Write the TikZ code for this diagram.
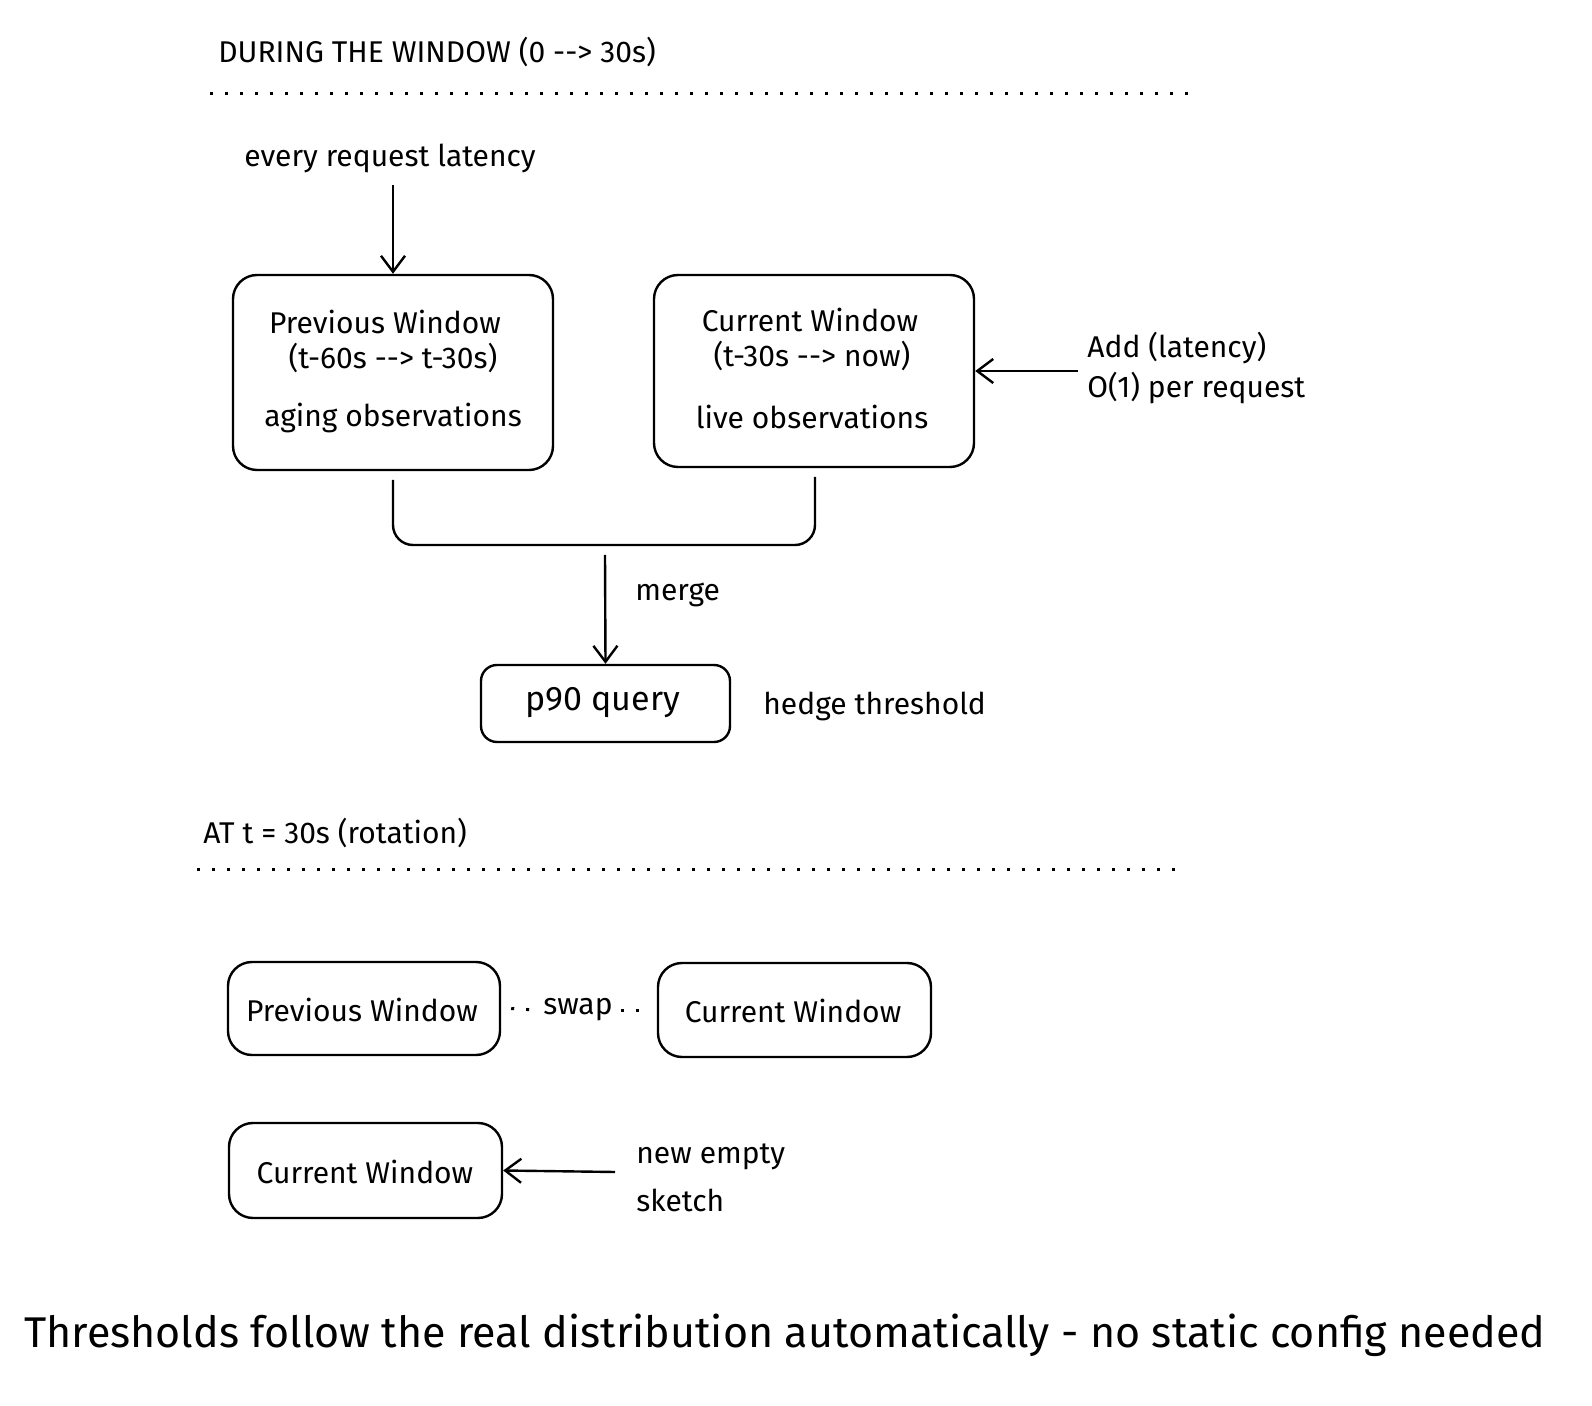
\documentclass[tikz,border=0pt]{standalone}
\usepackage{fontspec}
\setmainfont{Fira Sans}
\usetikzlibrary{arrows.meta}
\begin{document}
\begin{tikzpicture}[x=0.5pt,y=-0.5pt,
  box/.style={draw,line width=1.2pt,rounded corners=12pt,inner sep=0},
  txt/.style={font=\fontsize{15}{18}\selectfont,inner sep=0},
  hdr/.style={font=\fontsize{15}{18}\selectfont,inner sep=0,anchor=west},
  arr/.style={line width=1.2pt,-{Straight Barb[length=8pt,width=12pt]}},
  dots/.style={line width=1.5pt,dash pattern=on 1.5pt off 6pt}]
\useasboundingbox (0,0) rectangle (1592,1406);
\node[hdr] (h1) at (218,52) {DURING THE WINDOW (0 -{}-> 30s)};
\coordinate (d1a) at (210,94); \coordinate (d1b) at (1200,94);
\draw[dots] (d1a) -- (d1b);
\node[txt] (req) at (390,158) {every request latency};
\coordinate (reqa) at (393,185);
\node[box,minimum width=160pt,minimum height=97.5pt] (prev) at (393,372.5) {};
\node[txt] at (385,322) {Previous Window};
\node[txt] at (393,358) {(t-60s -{}-> t-30s)};
\node[txt] at (393,418) {aging observations};
\draw[arr] (reqa) -- (prev.north);
\node[box,minimum width=160pt,minimum height=96pt] (cur) at (814,371) {};
\node[txt] at (810,320) {Current Window};
\node[txt] at (812,356) {(t-30s -{}-> now)};
\node[txt] at (812,417) {live observations};
\node[txt,anchor=west] (add) at (1087,348) {Add (latency)};
\node[txt,anchor=west] (o1) at (1087,388) {O(1) per request};
\coordinate (adda) at (1078,371);
\draw[arr] (adda) -- (cur.east);
\coordinate (b1) at (393,480); \coordinate (b2) at (815,477);
\draw[line width=1.2pt,rounded corners=10pt] (b1) -- (393,545) -- (815,545) -- (b2);
\node[box,rounded corners=8pt,minimum width=124.5pt,minimum height=38.5pt] (p90) at (605.5,703.5) {};
\node[txt,font=\fontsize{17}{20}\selectfont] at (603,703) {p90 query};
\coordinate (ma) at (605,555);
\draw[arr] (ma) -- (p90.north);
\node[txt,anchor=west] (merge) at (635,595) {merge};
\node[txt,anchor=west] (hedge) at (763,706) {hedge threshold};
\node[hdr] (h2) at (203,833) {AT t = 30s (rotation)};
\coordinate (d2a) at (197,870); \coordinate (d2b) at (1187,870);
\draw[dots] (d2a) -- (d2b);
\node[box,minimum width=136pt,minimum height=46.5pt] (pw) at (364,1008.5) {};
\node[txt] at (362,1010) {Previous Window};
\node[box,minimum width=136.5pt,minimum height=47pt] (cw) at (794.5,1010) {};
\node[txt] at (793,1011) {Current Window};
\node[txt,inner xsep=4pt] (swap) at (578,1010) {swap};
\draw[dots] ([xshift=5pt]pw.east) -- (swap.west);
\draw[dots] (swap.east) -- ([xshift=-3pt]cw.west);
\node[box,minimum width=136.5pt,minimum height=47.5pt] (nw) at (365.5,1170.5) {};
\node[txt] at (365,1172) {Current Window};
\coordinate (na) at (615,1172);
\draw[arr] (na) -- (nw.east);
\node[txt,anchor=west] (ne) at (636,1157) {new empty};
\node[txt,anchor=west] (sk) at (636,1200) {sketch};
\node[txt,font=\fontsize{21.5}{25}\selectfont] (foot) at (785,1335) {Thresholds follow the real distribution automatically - no static config needed};
\end{tikzpicture}
\end{document}
